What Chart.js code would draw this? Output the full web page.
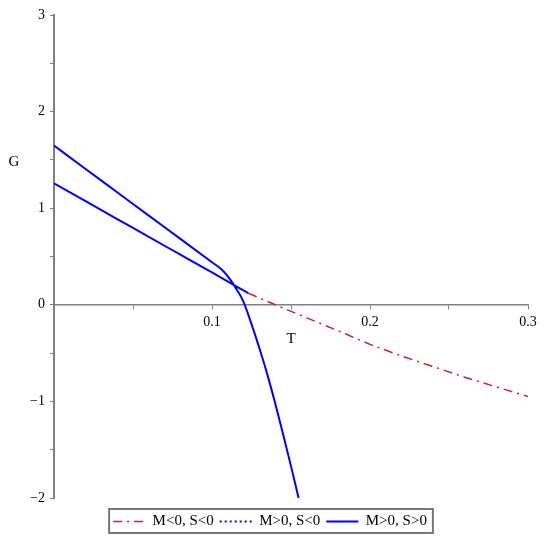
<!DOCTYPE html>
<html>
<head>
<meta charset="utf-8">
<script src="https://cdn.jsdelivr.net/npm/chart.js@4.4.1/dist/chart.umd.min.js"></script>
<style>
  html, body { margin: 0; padding: 0; background: #fff; }
</style>
</head>
<body>
<canvas id="gplot" width="544" height="540"></canvas>
<script>
// branch M<0, S<0 (dash-dot, red)
var redT = [0.123, 0.14, 0.16, 0.18, 0.2, 0.22, 0.24, 0.26, 0.28, 0.3];
var redG = [0.12, 0.0, -0.135, -0.27, -0.41, -0.53, -0.64, -0.75, -0.85, -0.95];

// branch M>0, S<0 (dotted) - nothing of it shows inside the window
var dotT = [];
var dotG = [];

// branch M>0, S>0 (solid blue): lower straight piece, then upper piece with the kink
var lowT = [0, 0.02, 0.04, 0.06, 0.08, 0.1, 0.123];
var lowG = [1.256, 1.072, 0.888, 0.703, 0.519, 0.335, 0.12];
var upT = [0, 0.02, 0.04, 0.06, 0.08, 0.1, 0.1061, 0.109, 0.112, 0.1146, 0.1198, 0.125, 0.13, 0.135, 0.14, 0.145, 0.15, 0.1548];
var upG = [1.648, 1.406, 1.165, 0.923, 0.682, 0.44, 0.366, 0.315, 0.25, 0.185, 0.036, -0.2, -0.45, -0.72, -1.02, -1.34, -1.67, -2.0];

var xTicks = [0.1, 0.2, 0.3];
var yTicks = [-2, -1, 0, 1, 2, 3];

var labels = ['M<0, S<0', 'M>0, S<0', 'M>0, S>0'];

function pts(xs, ys) {
  return xs.map(function (x, i) { return { x: x, y: ys[i] }; });
}

var solidData = pts(lowT, lowG).concat([{ x: 0.123, y: null }]).concat(pts(upT, upG));

var serif = "'Liberation Serif', 'Times New Roman', serif";
Chart.defaults.font.family = serif;
Chart.defaults.font.size = 14;
Chart.defaults.color = '#000';

var axisGray = '#808080';

var extras = {
  id: 'extras',
  afterLayout: function (chart) {
    // nudge the legend a little lower and to the right, like the original
    chart.legend.top += 10;
    chart.legend.bottom += 10;
    chart.legend.left += 6;
    chart.legend.right += 6;
  },
  afterDraw: function (chart) {
    var ctx = chart.ctx, area = chart.chartArea;
    var y0 = chart.scales.y.getPixelForValue(0);
    ctx.save();
    ctx.font = '15px ' + serif;
    ctx.fillStyle = '#000';
    ctx.textAlign = 'center';
    ctx.textBaseline = 'middle';
    ctx.fillText('T', (area.left + area.right) / 2, y0 + 34);
    ctx.fillText('G', 14, (area.top + y0) / 2 + 2);

    var hb = chart.legend.legendHitBoxes;
    if (hb && hb.length) {
      var first = hb[0], last = hb[hb.length - 1];
      var l = first.left - 4, r = last.left + last.width + 6;
      var t = first.top - 5, h = first.height + 9;
      ctx.strokeStyle = '#777';
      ctx.lineWidth = 2;
      ctx.strokeRect(l, t, r - l, h);
    }
    ctx.restore();
  }
};

new Chart(document.getElementById('gplot'), {
  type: 'line',
  data: {
    datasets: [{
      label: labels[0],
      data: pts(redT, redG),
      borderColor: 'rgb(200,35,50)',
      borderWidth: 1.5,
      borderDash: [9, 5, 2, 5],
      pointRadius: 0,
      fill: false
    }, {
      label: labels[1],
      data: pts(dotT, dotG),
      borderColor: 'rgb(0,0,255)',
      borderWidth: 2,
      borderDash: [2, 3],
      pointRadius: 0,
      fill: false
    }, {
      label: labels[2],
      data: solidData,
      borderColor: 'rgb(0,0,255)',
      borderWidth: 2,
      pointRadius: 0,
      spanGaps: false,
      cubicInterpolationMode: 'monotone',
      fill: false
    }]
  },
  options: {
    responsive: false,
    animation: false,
    layout: { padding: { top: 15, right: 16, bottom: 11, left: 0 } },
    plugins: {
      tooltip: { enabled: false },
      legend: {
        position: 'bottom',
        labels: {
          usePointStyle: true,
          pointStyleWidth: 32,
          padding: 6,
          color: '#000',
          font: { size: 15, family: serif },
          generateLabels: function (chart) {
            return chart.data.datasets.map(function (ds, i) {
              return {
                text: ds.label,
                strokeStyle: ds.borderColor,
                fillStyle: ds.borderColor,
                lineWidth: ds.borderWidth,
                lineDash: ds.borderDash || [],
                pointStyle: 'line',
                hidden: false,
                fontColor: '#000',
                datasetIndex: i
              };
            });
          }
        }
      }
    },
    scales: {
      x: {
        type: 'linear',
        position: { y: 0 },
        min: 0,
        max: 0.3,
        afterFit: function (s) { s.height = 2; },
        grid: { drawOnChartArea: false, drawTicks: true, tickLength: 4, color: axisGray, tickColor: axisGray },
        border: { color: axisGray, width: 1.5 },
        ticks: {
          stepSize: 0.05,
          padding: 5,
          maxRotation: 0,
          autoSkip: false,
          callback: function (v) {
            var r = Math.round(v * 100);
            if (r === 0 || r % 10 !== 0) return '';
            var hit = xTicks.find(function (t) { return Math.round(t * 100) === r; });
            return hit === undefined ? '' : String(hit);
          }
        }
      },
      y: {
        type: 'linear',
        position: 'left',
        min: -2,
        max: 3,
        afterFit: function (s) { s.width = 54; },
        grid: { drawOnChartArea: false, drawTicks: true, tickLength: 4, color: axisGray, tickColor: axisGray },
        border: { color: axisGray, width: 2 },
        ticks: {
          stepSize: 0.5,
          padding: 5,
          autoSkip: false,
          callback: function (v) {
            if (yTicks.indexOf(v) < 0) return '';
            return v < 0 ? '\u2212' + Math.abs(v) : String(v);
          }
        }
      }
    }
  },
  plugins: [extras]
});
</script>
</body>
</html>
